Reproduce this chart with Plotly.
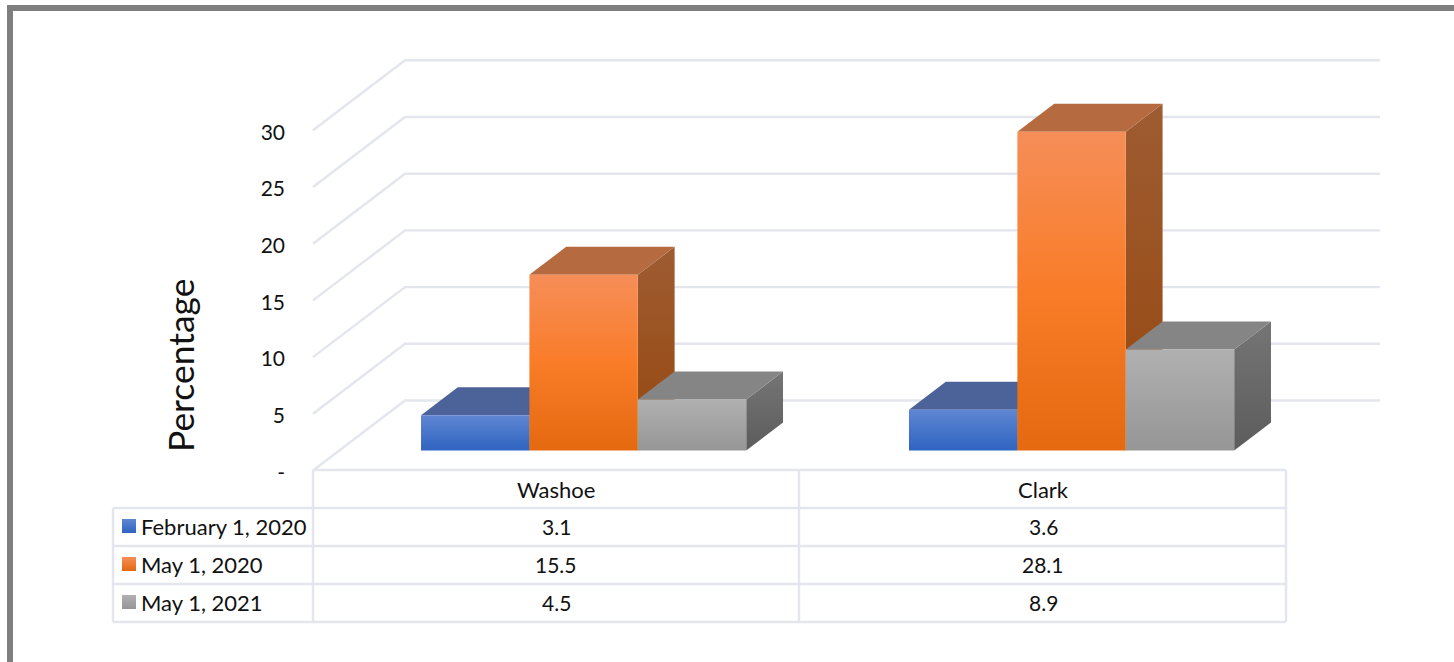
import plotly.graph_objects as go

# ---- data ----
categories = ["Washoe", "Clark"]
series_names = ["February 1, 2020", "May 1, 2020", "May 1, 2021"]
feb_2020 = [3.1, 3.6]
may_2020 = [15.5, 28.1]
may_2021 = [4.5, 8.9]
y_tick_vals = [0, 5, 10, 15, 20, 25, 30]
y_tick_text = ["-", "5", "10", "15", "20", "25", "30"]

# ---- styles: (front top, front bottom, top face, side top, side bottom) ----
styles = [
    ("#5F86D2", "#2F64C1", "#4C6399", "#46608F", "#2F4F8F"),
    ("#F68E58", "#E4690F", "#B66A40", "#9E5C32", "#97480F"),
    ("#B0B0B0", "#969696", "#858585", "#757575", "#5C5C5C"),
]
series_values = [feb_2020, may_2020, may_2021]

# ---- scale set-up (pixel frame of the 1454x662 canvas) ----
W, H = 1454, 662
X0_PX, CAT_PX = 313.0, 486.5       # left of plot, width of one category
Y0_PX, UNIT_PX = 470.5, 11.34      # zero line, pixels per percentage point
def ux(px): return (px - X0_PX) / CAT_PX
def uy(py): return (Y0_PX - py) / UNIT_PX
def paper_x(px): return px / W
def paper_y(py): return 1 - py / H

DEPTH_X = 92 / CAT_PX              # full floor depth in x units
DEPTH_Y = 70 / UNIT_PX             # full floor depth in y units
BAR_START = 20 / 70                # depth fraction where bars begin
BAR_DEPTH = 28 / 70                # depth fraction the bars occupy
GAP = 0.168
BAR_W = 108.4 / CAT_PX
CAT_STEP = 1.003
WALL_END = ux(1380)

GRID = "#E3E6EC"
GRID_W = 2.4
fig = go.Figure()

def poly(xs, ys, **kw):
    fig.add_trace(go.Scatter(x=xs + xs[:1], y=ys + ys[:1], mode="lines", fill="toself",
                             line=dict(width=0), hoverinfo="skip", showlegend=False, **kw))

# walls and floor gridlines
for v in y_tick_vals:
    fig.add_trace(go.Scatter(
        x=[0, DEPTH_X, WALL_END], y=[v, v + DEPTH_Y, v + DEPTH_Y], mode="lines",
        line=dict(color=GRID, width=GRID_W), hoverinfo="skip", showlegend=False))

# 3D columns, projected obliquely from the values
for c in range(len(categories)):
    for s, vals in enumerate(series_values):
        v = vals[c]
        ftop, fbot, top, stop, sbot = styles[s]
        x0 = c * CAT_STEP + GAP + s * BAR_W + BAR_START * DEPTH_X
        x1 = x0 + BAR_W
        y0 = BAR_START * DEPTH_Y
        y1 = y0 + v
        dx, dy = BAR_DEPTH * DEPTH_X, BAR_DEPTH * DEPTH_Y
        # side face
        poly([x1, x1 + dx, x1 + dx, x1], [y0, y0 + dy, y1 + dy, y1],
             fillgradient=dict(type="vertical", colorscale=[[0, sbot], [1, stop]]))
        # top face
        poly([x0, x1, x1 + dx, x0 + dx], [y1, y1, y1 + dy, y1 + dy], fillcolor=top)
        # front face
        scale = [[0, fbot], [0.5, "#F97C28"], [1, ftop]] if s == 1 else [[0, fbot], [1, ftop]]
        poly([x0, x1, x1, x0], [y0, y0, y1, y1], name=series_names[s],
             fillgradient=dict(type="vertical", colorscale=scale))

# data table grid
h_lines = [(313, 470), (113, 508), (113, 546), (113, 584), (113, 622)]
for left, py in h_lines:
    fig.add_trace(go.Scatter(x=[ux(left), ux(1286)], y=[uy(py), uy(py)], mode="lines",
                             line=dict(color=GRID, width=GRID_W), hoverinfo="skip", showlegend=False))
v_lines = [(113, 508), (313, 470), (799, 470), (1286, 470)]
for px, top_py in v_lines:
    fig.add_trace(go.Scatter(x=[ux(px), ux(px)], y=[uy(top_py), uy(622)], mode="lines",
                             line=dict(color=GRID, width=GRID_W), hoverinfo="skip", showlegend=False))

FONT = "Lato"
TXT = "#111111"
annotations = []
def note(px, py, text, size=21, anchor="center", angle=0):
    annotations.append(dict(x=ux(px), y=uy(py), xref="x", yref="y", text=text, showarrow=False,
                            xanchor=anchor, yanchor="middle", textangle=angle,
                            xshift=-2 if anchor == "left" else 0,
                            font=dict(family=FONT, size=size, color=TXT)))

col_px = [556, 1043]
row_py = [526, 564, 602]
for c, name in enumerate(categories):
    note(col_px[c], 489, name, size=22)
for s, name in enumerate(series_names):
    note(141, row_py[s], name, size=22, anchor="left")
    for c in range(len(categories)):
        note(col_px[c], row_py[s], str(series_values[s][c]))
    ftop, fbot = styles[s][0], styles[s][1]
    fig.add_trace(go.Scatter(
        x=[ux(129)], y=[uy(row_py[s])], mode="markers",
        marker=dict(symbol="square", size=14, color=ftop, line=dict(width=0),
                    gradient=dict(type="vertical", color=fbot)),
        hoverinfo="skip", showlegend=False))
note(180, 365, "Percentage", size=35.5, angle=-90)

# frame
FRAME = "#7F7F7F"
shapes = [
    dict(type="rect", xref="paper", yref="paper", layer="below", line=dict(width=0), fillcolor=FRAME,
         x0=paper_x(7), x1=paper_x(13), y0=paper_y(662), y1=paper_y(5)),
    dict(type="rect", xref="paper", yref="paper", layer="below", line=dict(width=0), fillcolor=FRAME,
         x0=paper_x(7), x1=paper_x(W), y0=paper_y(11), y1=paper_y(5)),
]

fig.update_layout(
    width=W, height=H, margin=dict(l=0, r=0, t=0, b=0, autoexpand=False),
    paper_bgcolor="white", plot_bgcolor="white", showlegend=False,
    annotations=annotations, shapes=shapes,
    font=dict(family=FONT, size=21, color=TXT),
    xaxis=dict(range=[ux(0), ux(W)], domain=[0, 1], visible=False, fixedrange=True),
    yaxis=dict(range=[uy(H), uy(0)], tickmode="array", tickvals=y_tick_vals, ticktext=y_tick_text,
               anchor="free", position=X0_PX / W,
               showgrid=False, zeroline=False, showline=False, ticks="", ticklabelstandoff=28,
               ticklabelshift=2,
               tickfont=dict(family=FONT, size=21, color=TXT), fixedrange=True),
)

fig.write_html("out.html", post_script="document.body.style.margin='0';",
               config={"displayModeBar": False})
